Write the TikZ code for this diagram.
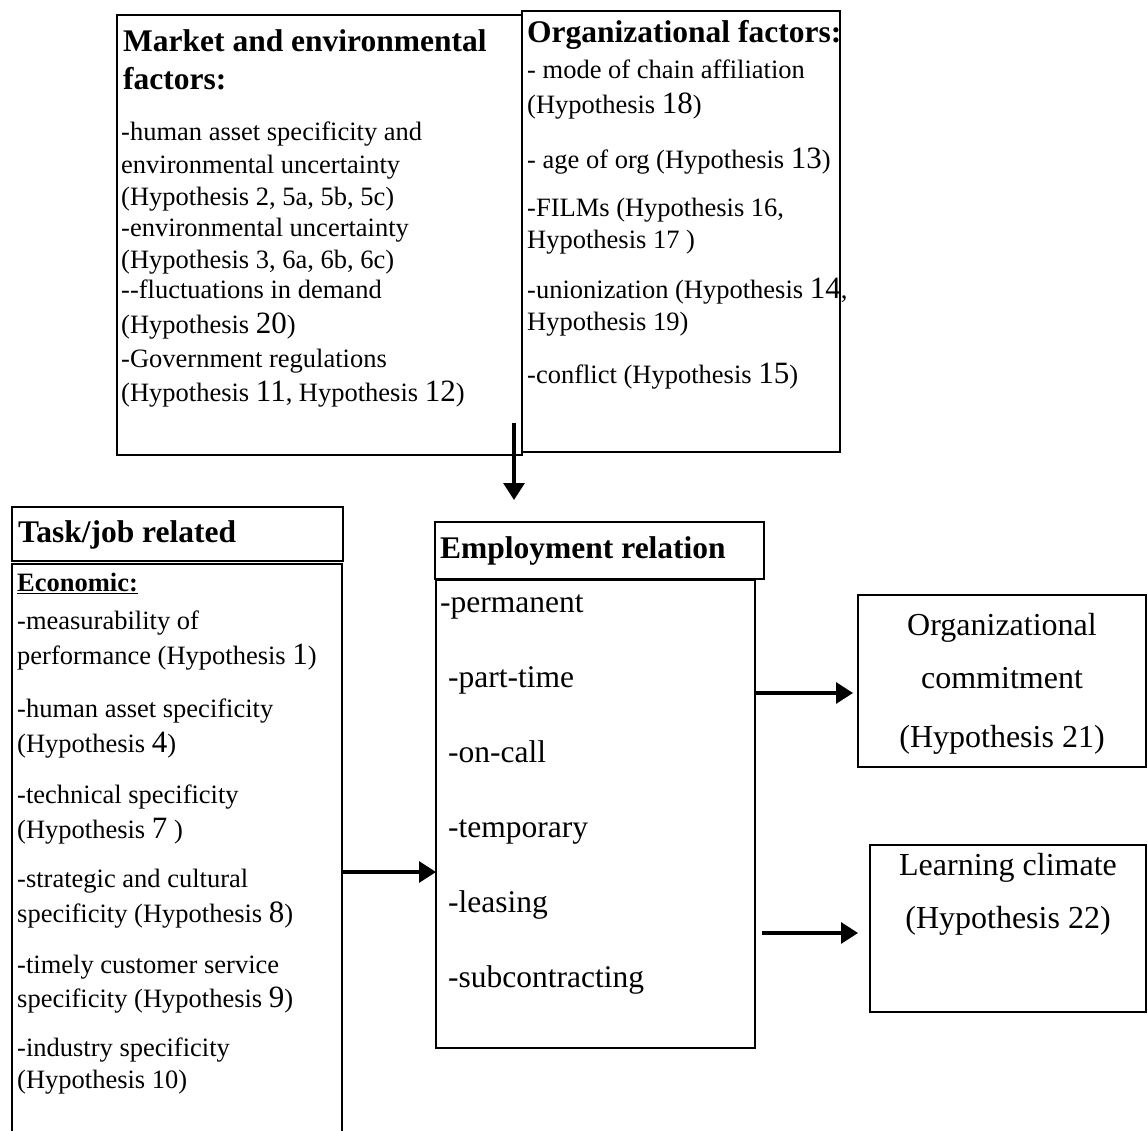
\documentclass[tikz,border=0pt]{standalone}
\usepackage{fontspec}
\setmainfont{Liberation Serif}
\usetikzlibrary{arrows.meta}
\newcommand{\bn}[1]{{\fontsize{31}{31}\selectfont #1}}
\begin{document}
\begin{tikzpicture}[x=1pt,y=-1pt,
  box/.style={draw, line width=2.9pt, anchor=north west, inner sep=0pt, outer sep=0pt},
  ln/.style={anchor=base west, inner sep=0pt, font=\fontsize{26.5}{32}\selectfont},
  hd/.style={anchor=base west, inner sep=0pt, font=\fontsize{31.5}{38}\selectfont\bfseries},
  er/.style={anchor=base west, inner sep=0pt, font=\fontsize{31.5}{38}\selectfont},
  ct/.style={anchor=base, inner sep=0pt, font=\fontsize{32}{38}\selectfont},
  arr/.style={line width=3.1pt, -{Triangle[length=17pt,width=21pt]}},
]
\useasboundingbox (0,0) rectangle (1148,1131);

% boxes
\node[box, minimum width=405pt, minimum height=440pt] (market) at (117,15) {};
\node[box, minimum width=318pt, minimum height=441pt] (org) at (522,11) {};
\node[box, minimum width=331pt, minimum height=54pt] (taskhead) at (12,507) {};
\node[anchor=north west, inner sep=0pt, outer sep=0pt, minimum width=330pt, minimum height=570pt] (taskbody) at (12,564) {};
\draw[line width=2.9pt] (taskbody.south west) -- (taskbody.north west) -- (taskbody.north east) -- (taskbody.south east);
\node[box, minimum width=329pt, minimum height=57pt] (erhead) at (435,522) {};
\node[box, minimum width=319pt, minimum height=468pt] (erbody) at (436,580) {};
\node[box, minimum width=288pt, minimum height=172pt] (commit) at (858,595) {};
\node[box, minimum width=276pt, minimum height=167pt] (learn) at (870,845) {};

% market texts
\node[hd] (m1) at (123,52) {Market and environmental};
\node[hd] (m2) at (123,90) {factors:};
\node[ln] (m3) at (121,141) {-human asset specificity and};
\node[ln] (m4) at (121,174) {environmental uncertainty};
\node[ln] (m5) at (121,206) {(Hypothesis 2, 5a, 5b, 5c)};
\node[ln] (m6) at (121,237) {-environmental uncertainty};
\node[ln] (m7) at (121,269) {(Hypothesis 3, 6a, 6b, 6c)};
\node[ln] (m8) at (121,299) {-{}-fluctuations in demand};
\node[ln] (m9) at (121,334) {(Hypothesis \bn{20})};
\node[ln] (m10) at (121,367) {-Government regulations};
\node[ln] (m11) at (121,401) {(Hypothesis \bn{11}, Hypothesis \bn{12})};

% organizational texts
\node[hd] (o1) at (527,43) {Organizational factors:};
\node[ln] (o2) at (527,79) {- mode of chain affiliation};
\node[ln] (o3) at (527,114) {(Hypothesis \bn{18})};
\node[ln] (o4) at (527,169) {- age of org (Hypothesis \bn{13})};
\node[ln] (o5) at (527,217) {-FILMs (Hypothesis 16,};
\node[ln] (o6) at (527,249) {Hypothesis 17 )};
\node[ln] (o7) at (527,299) {-unionization (Hypothesis \bn{14},};
\node[ln] (o8) at (527,331) {Hypothesis 19)};
\node[ln] (o9) at (527,384) {-conflict (Hypothesis \bn{15})};

% task texts
\node[hd] (t0) at (18,542) {Task/job related};
\node[ln, font=\fontsize{26.5}{32}\selectfont\bfseries] (t1) at (17,591) {\underline{Economic:}};
\node[ln] (t2) at (17,629) {-measurability of};
\node[ln] (t3) at (17,664) {performance (Hypothesis \bn{1})};
\node[ln] (t4) at (17,717) {-human asset specificity};
\node[ln] (t5) at (17,752) {(Hypothesis \bn{4})};
\node[ln] (t6) at (17,803) {-technical specificity};
\node[ln] (t7) at (17,838) {(Hypothesis \bn{7} )};
\node[ln] (t8) at (17,887) {-strategic and cultural};
\node[ln] (t9) at (17,922) {specificity (Hypothesis \bn{8})};
\node[ln] (t10) at (17,973) {-timely customer service};
\node[ln] (t11) at (17,1007) {specificity (Hypothesis \bn{9})};
\node[ln] (t12) at (17,1056) {-industry specificity};
\node[ln] (t13) at (17,1088) {(Hypothesis 10)};

% employment relation texts
\node[hd] (e0) at (440,558) {Employment relation};
\node[er] (e1) at (440,612) {-permanent};
\node[er] (e2) at (448,687) {-part-time};
\node[er] (e3) at (448,762) {-on-call};
\node[er] (e4) at (448,837) {-temporary};
\node[er] (e5) at (448,912) {-leasing};
\node[er] (e6) at (448,987) {-subcontracting};

% outcome texts
\node[ct] (c1) at (1002,635) {Organizational};
\node[ct] (c2) at (1002,688) {commitment};
\node[ct] (c3) at (1002,747) {(Hypothesis 21)};
\node[ct] (l1) at (1008,875) {Learning climate};
\node[ct] (l2) at (1008,928) {(Hypothesis 22)};

% connectors
\coordinate (vsrc) at (514,423);
\coordinate (h1) at (0,872);
\coordinate (h2) at (0,693);
\coordinate (h3) at (0,933);
\draw[arr, shorten >=22pt] (vsrc) -- (vsrc |- erhead.north);
\draw[arr] (taskbody.east |- h1) -- (erbody.west |- h1);
\draw[arr, shorten >=5pt] (erbody.east |- h2) -- (commit.west |- h2);
\draw[arr, shorten >=12pt, shorten <=7pt] (erbody.east |- h3) -- (learn.west |- h3);
\end{tikzpicture}
\end{document}
